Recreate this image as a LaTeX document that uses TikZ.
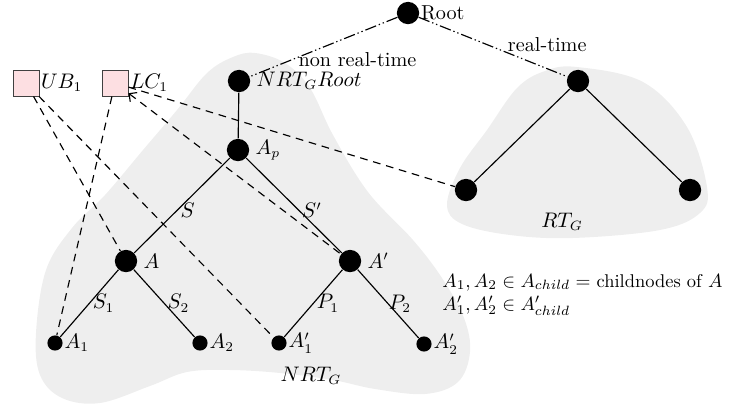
\documentclass[tikz,border=0pt]{standalone}
\usetikzlibrary{arrows.meta}
\definecolor{blob}{HTML}{EEEEEE}
\definecolor{boxpink}{HTML}{FDDFE2}
\begin{document}
\fontsize{10.5}{12.6}\selectfont
\begin{tikzpicture}[x=0.52pt,y=-0.52pt,
  big/.style={circle,fill=black,inner sep=0pt,minimum size=11.6pt},
  leaf/.style={circle,fill=black,inner sep=0pt,minimum size=7.9pt},
  cbox/.style={draw=black!75,fill=boxpink,minimum size=13.5pt,inner sep=0pt,line width=0.5pt},
  tree/.style={line width=0.6pt},
  dep/.style={dash pattern=on 4pt off 3pt,line width=0.6pt},
  ddd/.style={dash pattern=on 6pt off 1.5pt on 0.7pt off 1.5pt on 0.7pt off 1.5pt,line width=0.6pt},
  lbl/.style={inner sep=3pt},
  llbl/.style={inner sep=0.6pt},
  elab/.style={right,inner sep=1.5pt},
  notetxt/.style={anchor=base west,inner sep=0pt,font=\fontsize{9.6}{11.8}\selectfont}
]
\useasboundingbox (0,0) rectangle (734,408);
% shaded regions
\fill[blob] plot[smooth cycle,tension=0.6] coordinates {
  (255,53) (285,63) (310,88) (333,135) (368,192) (413,240) (442,278)
  (464,318) (470,352) (458,382) (425,394) (375,389) (333,380) (280,373)
  (230,370) (187,372) (150,386) (100,403) (62,398) (40,375) (36,333)
  (46,270) (72,228) (105,195) (143,150) (177,110) (207,73) (233,57)};
\fill[blob] plot[smooth cycle,tension=0.6] coordinates {
  (577,67) (643,82) (687,127) (707,187) (700,213) (660,230) (573,238)
  (510,235) (462,224) (447,205) (460,168) (487,130) (517,88) (545,71)};
% nodes
\node[big,label={[llbl]right:Root}] (root) at (408,13) {};
\node[big,label={[lbl]right:$NRT_GRoot$}] (nrt) at (239,81) {};
\node[big,label={[lbl]right:$A_p$}] (Ap) at (238,150) {};
\node[big,label={[lbl]right:$A$}] (A) at (126,261) {};
\node[big,label={[lbl]right:$A'$}] (Ab) at (350,261) {};
\node[leaf,label={[llbl]right:$A_1$}] (A1) at (55,343) {};
\node[leaf,label={[llbl]right:$A_2$}] (A2) at (200,343) {};
\node[leaf,label={[llbl]right:$A'_1$}] (Ab1) at (279,343) {};
\node[leaf,label={[llbl]right:$A'_2$}] (Ab2) at (424,344) {};
\node[big] (rt) at (578,81) {};
\node[big] (rtl) at (466,190) {};
\node[big] (rtr) at (690,190) {};
\node[cbox,label={[llbl]right:$UB_1$}] (ub) at (26,83) {};
\node[cbox,label={[llbl]right:$LC_1$}] (lc) at (115,83) {};
\node (nrtg) at (311,376) {$NRT_G$};
\node (rtg) at (562,222) {$RT_G$};
\node[notetxt] (note1) at (442,287) {$A_1, A_2 \in A_{child} =$ childnodes of $A$};
\node[notetxt] (note2) at (442,310) {$A'_1, A'_2 \in A'_{child}$};
% root edges
\draw[ddd] (root) -- node[pos=0.27,below=6pt] {non real-time} (nrt);
\draw[ddd] (root) -- node[pos=0.865,above=5.2pt] {real-time} (rt);
% tree edges
\draw[tree] (nrt) -- (Ap);
\draw[tree] (Ap) -- node[elab,pos=0.55] {$S$} (A);
\draw[tree] (Ap) -- node[elab,pos=0.55] {$S'$} (Ab);
\draw[tree] (A) -- node[elab,pos=0.5] {$S_1$} (A1);
\draw[tree] (A) -- node[elab,pos=0.5] {$S_2$} (A2);
\draw[tree] (Ab) -- node[elab,pos=0.5] {$P_1$} (Ab1);
\draw[tree] (Ab) -- node[elab,pos=0.5,inner sep=0pt] {$P_2$} (Ab2);
\draw[tree] (rt) -- (rtl);
\draw[tree] (rt) -- (rtr);
% dependency edges
\draw[dep] (ub) -- (A);
\draw[dep] (ub) -- (Ab1);
\draw[dep] (lc) -- (A1);
\draw[dep,{Straight Barb[length=3pt,width=6pt]}-] (lc) -- (Ab);
\draw[dep] (lc) -- (rtl);
\end{tikzpicture}
\end{document}
